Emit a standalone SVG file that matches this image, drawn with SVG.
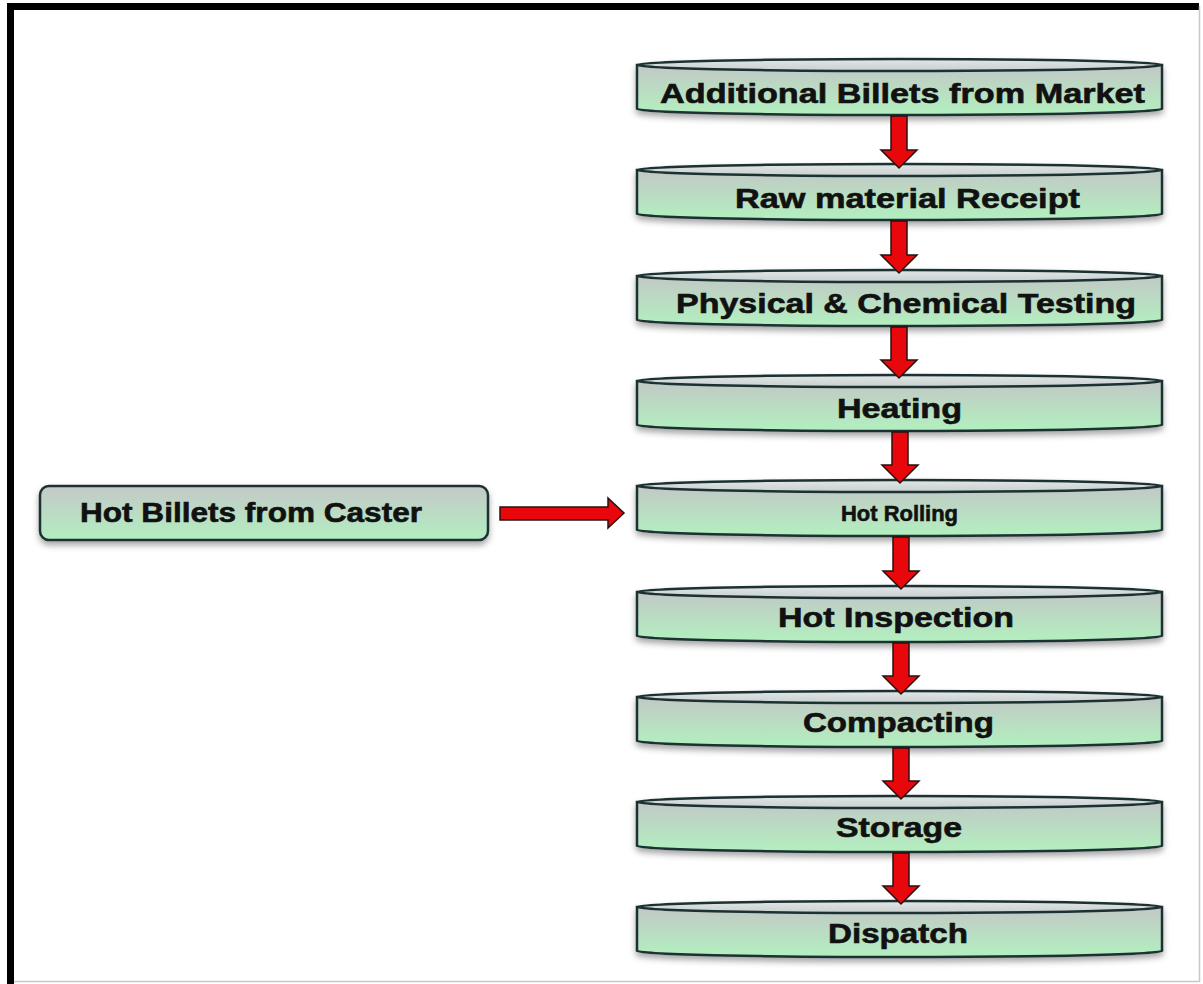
<svg xmlns="http://www.w3.org/2000/svg" xmlns:xlink="http://www.w3.org/1999/xlink" width="1203" height="984" viewBox="0 0 1203 984">
  <style>
    .body { fill: url(#bodyFill); stroke: #1c3030; stroke-width: 2.5; }
    .lid { fill: url(#lidFill); stroke: #1c3030; stroke-width: 2.5; }
    .box { fill: url(#boxFill); stroke: #1c3030; stroke-width: 2.5; }
    .label { font-family: "Liberation Sans", Arial, sans-serif; font-weight: bold; font-size: 27px; fill: #111; stroke: #111; stroke-width: 0.6; text-anchor: middle; }
    .small { font-size: 22px; }
    .arrow { fill: #e8070b; stroke: #2a1010; stroke-width: 1.5; stroke-linejoin: miter; }
  </style>
  <defs>
    <linearGradient id="bodyFill" x1="0" y1="0" x2="0" y2="1">
      <stop offset="0" stop-color="#c2c8c6"/>
      <stop offset="1" stop-color="#b2f0bf"/>
    </linearGradient>
    <linearGradient id="lidFill" x1="0" y1="0" x2="0" y2="1">
      <stop offset="0" stop-color="#e2e6e6"/>
      <stop offset="1" stop-color="#c8d0d0"/>
    </linearGradient>
    <linearGradient id="boxFill" x1="0" y1="0" x2="0" y2="1">
      <stop offset="0" stop-color="#c4c8c8"/>
      <stop offset="1" stop-color="#b2efc0"/>
    </linearGradient>
    <filter id="shadow" x="-5%" y="-30%" width="110%" height="170%">
      <feDropShadow dx="0" dy="4" stdDeviation="3" flood-color="#000" flood-opacity="0.35"/>
    </filter>
    <!-- cylinder shape, local origin at the top of the lid -->
    <g id="cyl">
      <path class="body" d="M637 7 L637 51 A262.5 6 0 0 0 1162 51 L1162 7 Z"/>
      <ellipse class="lid" cx="899.5" cy="7" rx="262.5" ry="6"/>
    </g>
  </defs>

  <!-- page frame -->
  <rect x="0" y="0" width="1203" height="984" fill="#fff"/>
  <path d="M10.5 984 L10.5 6.5 L1199 6.5" fill="none" stroke="#000" stroke-width="7"/>
  <path d="M1199.5 6 L1199.5 981.5 L14 981.5" fill="none" stroke="#c8c8c8" stroke-width="1.5"/>

  <g id="n-market" transform="translate(0,58)">
    <use xlink:href="#cyl" filter="url(#shadow)"/>
    <text class="label" x="902.5" y="45" textLength="485" lengthAdjust="spacingAndGlyphs">Additional Billets from Market</text>
  </g>
  <g id="n-receipt" transform="translate(0,163)">
    <use xlink:href="#cyl" filter="url(#shadow)"/>
    <text class="label" x="907.5" y="45" textLength="345" lengthAdjust="spacingAndGlyphs">Raw material Receipt</text>
  </g>
  <g id="n-testing" transform="translate(0,269)">
    <use xlink:href="#cyl" filter="url(#shadow)"/>
    <text class="label" x="906" y="44" textLength="460" lengthAdjust="spacingAndGlyphs">Physical &amp; Chemical Testing</text>
  </g>
  <g id="n-heating" transform="translate(0,374)">
    <use xlink:href="#cyl" filter="url(#shadow)"/>
    <text class="label" x="899.5" y="44" textLength="125" lengthAdjust="spacingAndGlyphs">Heating</text>
  </g>
  <g id="n-rolling" transform="translate(0,479)">
    <use xlink:href="#cyl" filter="url(#shadow)"/>
    <text class="label small" x="899.5" y="42" textLength="117" lengthAdjust="spacingAndGlyphs">Hot Rolling</text>
  </g>
  <g id="n-inspection" transform="translate(0,585)">
    <use xlink:href="#cyl" filter="url(#shadow)"/>
    <text class="label" x="896" y="42" textLength="236" lengthAdjust="spacingAndGlyphs">Hot Inspection</text>
  </g>
  <g id="n-compacting" transform="translate(0,690)">
    <use xlink:href="#cyl" filter="url(#shadow)"/>
    <text class="label" x="898.5" y="42" textLength="191" lengthAdjust="spacingAndGlyphs">Compacting</text>
  </g>
  <g id="n-storage" transform="translate(0,795)">
    <use xlink:href="#cyl" filter="url(#shadow)"/>
    <text class="label" x="899" y="42" textLength="126" lengthAdjust="spacingAndGlyphs">Storage</text>
  </g>
  <g id="n-dispatch" transform="translate(0,900)">
    <use xlink:href="#cyl" filter="url(#shadow)"/>
    <text class="label" x="898" y="43" textLength="140" lengthAdjust="spacingAndGlyphs">Dispatch</text>
  </g>

  <g id="n-caster">
    <rect class="box" x="40" y="486" width="448" height="54" rx="9" filter="url(#shadow)"/>
    <text class="label" x="251" y="522" textLength="342" lengthAdjust="spacingAndGlyphs">Hot Billets from Caster</text>
  </g>

  <!-- block arrows between stages -->
  <g id="connectors">
    <polygon class="arrow" points="891,116 907,116 907,150 917,150 899,168 881,150 891,150"/>
    <polygon class="arrow" points="891,221 907,221 907,255 917,255 899,273 881,255 891,255"/>
    <polygon class="arrow" points="891,327 907,327 907,360 917,360 899,378 881,360 891,360"/>
    <polygon class="arrow" points="892,432 908,432 908,465 918,465 900,483 882,465 892,465"/>
    <polygon class="arrow" points="893,537 909,537 909,571 919,571 901,589 883,571 893,571"/>
    <polygon class="arrow" points="893,643 909,643 909,676 919,676 901,694 883,676 893,676"/>
    <polygon class="arrow" points="893,748 909,748 909,781 919,781 901,799 883,781 893,781"/>
    <polygon class="arrow" points="893,853 909,853 909,886 919,886 901,904 883,886 893,886"/>
    <polygon class="arrow" points="500,507 608,507 608,498 624,513 608,528 608,520 500,520"/>
  </g>
</svg>
